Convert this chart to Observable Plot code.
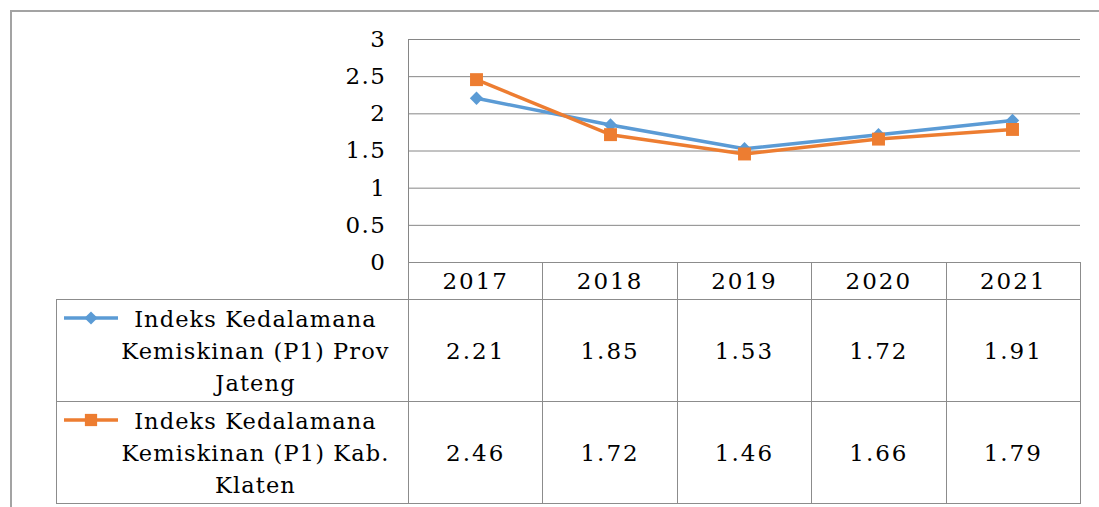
<!DOCTYPE html>
<html>
<head>
<meta charset="utf-8">
<script src="https://cdn.jsdelivr.net/npm/d3@7"></script>
<script src="https://cdn.jsdelivr.net/npm/@observablehq/plot@0.6"></script>
<style>
  html, body { margin: 0; padding: 0; background: #fff; }
  body { width: 1099px; height: 507px; position: relative; overflow: hidden; font-family: "DejaVu Serif", serif; }
  #frame { position: absolute; left: 10px; top: 10px; width: 1100px; height: 510px; border: 2px solid #a3a3a3; box-sizing: border-box; }
  #chart { position: absolute; left: 0; top: 0; }
  #chart svg text { letter-spacing: 1.5px; }
  #tbl { position: absolute; left: 56px; top: 262px; border-collapse: collapse; table-layout: fixed; font-family: "DejaVu Serif", serif; font-size: 23px; color: #000; }
  #tbl td { border: 1px solid #8c8c8c; text-align: center; vertical-align: middle; padding: 0; letter-spacing: 2px; }
  #tbl tr.head td { height: 36px; }
  #tbl tr.head td.corner { border-top: none; border-left: none; }
  #tbl tr.row td { height: 101px; }
  #tbl td.legend { position: relative; padding: 0 8px 0 54px; line-height: 32px; font-size: 22.5px; letter-spacing: 1.1px; }
  #tbl td.legend svg { position: absolute; left: 6px; top: 9px; }
</style>
</head>
<body>
<div id="frame"></div>
<div id="chart"></div>
<table id="tbl"></table>
<script>
// ---- data ----
const years = ["2017", "2018", "2019", "2020", "2021"];
const seriesNames = [
  "Indeks Kedalamana Kemiskinan (P1) Prov Jateng",
  "Indeks Kedalamana Kemiskinan (P1) Kab. Klaten"
];
const jateng = [2.21, 1.85, 1.53, 1.72, 1.91];
const klaten = [2.46, 1.72, 1.46, 1.66, 1.79];
const yTicks = [0, 0.5, 1, 1.5, 2, 2.5, 3];
const seriesColors = ["#5B9BD5", "#ED7D31"];
const seriesSymbols = ["diamond2", "square"];

const seriesValues = [jateng, klaten];
const rows = seriesValues.map((vals, s) => years.map((yr, i) => ({year: yr, value: vals[i], series: seriesNames[s]})));

// ---- chart ----
const chart = Plot.plot({
  width: 1099,
  height: 263,
  marginLeft: 408,
  marginRight: 19,
  marginTop: 39,
  marginBottom: 1,
  x: {type: "point", domain: years, padding: 0.5, axis: null},
  y: {domain: [0, 3], ticks: yTicks, label: null},
  style: {fontFamily: "DejaVu Serif", fontSize: "23px", background: "transparent", color: "#000", overflow: "visible"},
  marks: [
    Plot.ruleY(yTicks, {stroke: "#868686", strokeWidth: 1, strokeOpacity: 1}),
    Plot.frame({anchor: "left", stroke: "#868686", strokeOpacity: 1}),
    Plot.axisY({ticks: yTicks, tickFormat: d => String(d), tickSize: 0, tickPadding: 22, fontSize: 23, fill: "#000"}),
    ...rows.flatMap((r, s) => [
      Plot.line(r, {x: "year", y: "value", stroke: seriesColors[s], strokeWidth: 3.5}),
      Plot.dot(r, {x: "year", y: "value", symbol: seriesSymbols[s], r: s === 0 ? 6 : 7.3, fill: seriesColors[s], stroke: "none"})
    ])
  ]
});
document.getElementById("chart").appendChild(chart);

// ---- data table ----
const tbl = d3.select("#tbl");
const cg = tbl.append("colgroup");
cg.append("col").style("width", "352px");
years.forEach(() => cg.append("col").style("width", "134.4px"));

const head = tbl.append("tr").attr("class", "head");
head.append("td").attr("class", "corner");
years.forEach(y => head.append("td").text(y));

seriesNames.forEach((name, s) => {
  const tr = tbl.append("tr").attr("class", "row");
  const lc = tr.append("td").attr("class", "legend");
  const svg = lc.append("svg").attr("width", 56).attr("height", 18);
  svg.append("line").attr("x1", 1).attr("x2", 55).attr("y1", 9).attr("y2", 9)
    .attr("stroke", seriesColors[s]).attr("stroke-width", 3.5);
  const sym = s === 0 ? d3.symbolDiamond2 : d3.symbolSquare;
  const size = s === 0 ? 110 : 150;
  svg.append("path").attr("transform", "translate(28,9)")
    .attr("d", d3.symbol(sym, size)()).attr("fill", seriesColors[s]);
  lc.append("span").text(name);
  seriesValues[s].forEach(v => tr.append("td").text(v.toFixed(2)));
});
</script>
</body>
</html>
